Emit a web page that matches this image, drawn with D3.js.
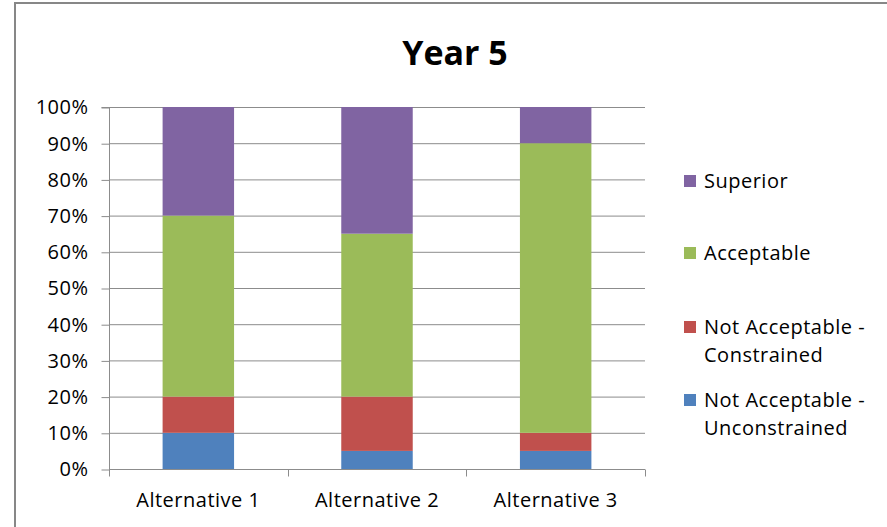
<!DOCTYPE html>
<html>
<head>
<meta charset="utf-8">
<script src="https://cdn.jsdelivr.net/npm/d3@7"></script>
<style>
  body { margin: 0; background: #fff; }
  svg { display: block; font-family: "Open Sans", sans-serif; }
</style>
</head>
<body>
<div id="container"></div>
<script>
// Data (percent of each alternative)
const categories = ["Alternative 1", "Alternative 2", "Alternative 3"];
const seriesNames = ["Not Acceptable - Unconstrained", "Not Acceptable - Constrained", "Acceptable", "Superior"];
const unconstrained = [10, 5, 5];
const constrained = [10, 15, 5];
const acceptable = [50, 45, 80];
const superior = [30, 35, 10];
const yTicks = [0, 10, 20, 30, 40, 50, 60, 70, 80, 90, 100];
const colors = ["#4f81bd", "#c0504d", "#9bbb59", "#8064a2"];

const width = 887;
const height = 527;
const marginTop = 107;
const marginLeft = 109;
const plotRight = 645;
const plotBottom = 469;
const labelSize = "20px";
const labelSpacing = "0.5px";

const svg = d3.create("svg").attr("width", width).attr("height", height);

// Outer chart border
svg.append("rect")
  .attr("x", 15).attr("y", 3)
  .attr("width", width + 10).attr("height", height + 10)
  .attr("fill", "white")
  .attr("stroke", "#878787")
  .attr("stroke-width", 2);

// Title
svg.append("text")
  .attr("x", 455)
  .attr("y", 65)
  .attr("text-anchor", "middle")
  .attr("font-size", "34px")
  .attr("font-weight", "bold")
  .attr("fill", "#000")
  .text("Year 5");

const rows = categories.map((c, i) => ({
  category: c,
  [seriesNames[0]]: unconstrained[i],
  [seriesNames[1]]: constrained[i],
  [seriesNames[2]]: acceptable[i],
  [seriesNames[3]]: superior[i],
}));
const stacked = d3.stack().keys(seriesNames)(rows);

const x = d3.scaleBand().domain(categories).range([marginLeft, plotRight]).padding(0);
const y = d3.scaleLinear().domain([0, 100]).range([plotBottom, marginTop]);

// Gridlines
svg.append("g")
  .selectAll("line")
  .data(yTicks)
  .join("line")
  .attr("x1", marginLeft).attr("x2", plotRight)
  .attr("y1", (d) => y(d) + 0.5).attr("y2", (d) => y(d) + 0.5)
  .attr("stroke", "#8c8c8c")
  .attr("stroke-width", 1);

// Y axis
const yAxis = svg.append("g")
  .attr("transform", `translate(${marginLeft + 0.5},0.5)`)
  .call(d3.axisLeft(y).tickValues(yTicks).tickFormat((d) => d + "%").tickSize(8).tickPadding(13));
yAxis.select(".domain").attr("stroke", "#8c8c8c").attr("d", `M-8,${y(100)}H0V${y(0)}`);
yAxis.selectAll(".tick line").attr("stroke", "#8c8c8c");
yAxis.selectAll(".tick text")
  .attr("font-family", "Open Sans, sans-serif")
  .attr("font-size", labelSize)
  .attr("letter-spacing", labelSpacing)
  .attr("fill", "#000");

// Bars
const barWidth = x.bandwidth() * 0.4;
svg.append("g")
  .selectAll("g")
  .data(stacked)
  .join("g")
  .attr("fill", (d, i) => colors[i])
  .selectAll("rect")
  .data((d) => d)
  .join("rect")
  .attr("x", (d) => x(d.data.category) + (x.bandwidth() - barWidth) / 2)
  .attr("y", (d) => y(d[1]))
  .attr("height", (d) => y(d[0]) - y(d[1]))
  .attr("width", barWidth);

// X axis
const xAxis = svg.append("g")
  .attr("transform", `translate(0,${plotBottom + 0.5})`)
  .call(d3.axisBottom(x).tickSize(0).tickPadding(23));
xAxis.select(".domain").attr("stroke", "#8c8c8c").attr("d", `M${marginLeft},0H${plotRight}`);
xAxis.selectAll(".tick text")
  .attr("font-family", "Open Sans, sans-serif")
  .attr("font-size", labelSize)
  .attr("letter-spacing", labelSpacing)
  .attr("fill", "#000");
// category boundary ticks
const boundaries = [marginLeft].concat(categories.map((c) => x(c) + x.bandwidth()));
xAxis.selectAll(".bound")
  .data(boundaries)
  .join("line")
  .attr("class", "bound")
  .attr("x1", (d) => Math.round(d) + 0.5).attr("x2", (d) => Math.round(d) + 0.5)
  .attr("y1", 0).attr("y2", 7)
  .attr("stroke", "#8c8c8c");

// Legend (top to bottom: Superior ... Unconstrained)
const legendItems = [
  { name: seriesNames[3], lines: ["Superior"], color: colors[3], y: 181 },
  { name: seriesNames[2], lines: ["Acceptable"], color: colors[2], y: 253 },
  { name: seriesNames[1], lines: ["Not Acceptable -", "Constrained"], color: colors[1], y: 327 },
  { name: seriesNames[0], lines: ["Not Acceptable -", "Unconstrained"], color: colors[0], y: 400 },
];
const legend = svg.append("g");
const item = legend.selectAll("g")
  .data(legendItems)
  .join("g")
  .attr("transform", (d) => `translate(684,${d.y})`);
item.append("rect")
  .attr("x", 0).attr("y", -6)
  .attr("width", 12).attr("height", 12)
  .attr("fill", (d) => d.color);
item.append("text")
  .attr("x", 20)
  .attr("font-size", labelSize)
  .attr("letter-spacing", labelSpacing)
  .attr("fill", "#000")
  .selectAll("tspan")
  .data((d) => d.lines)
  .join("tspan")
  .attr("x", 20)
  .attr("y", (d, i) => 7 + i * 28)
  .text((d) => d);

document.getElementById("container").append(svg.node());
</script>
</body>
</html>
